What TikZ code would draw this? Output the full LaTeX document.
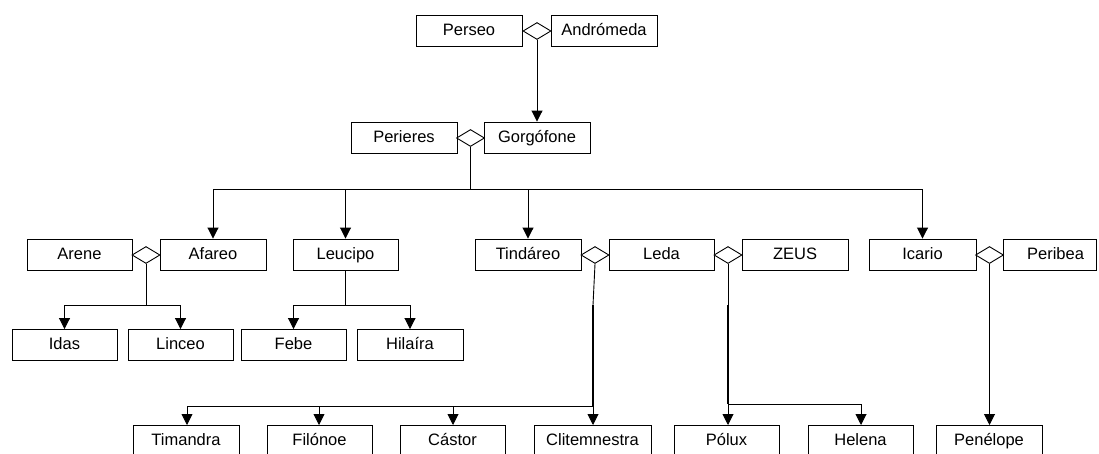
\documentclass[tikz,border=0pt]{standalone}
\usepackage{fontspec}
\setmainfont{Liberation Sans}
\usetikzlibrary{shapes.geometric,arrows.meta}
\tikzset{
  person/.style={draw, line width=0.9pt, minimum width=106pt, minimum height=31pt,
    inner sep=0pt, text height=11.5pt, text depth=2.5pt,
    font=\fontsize{16.5}{19}\selectfont},
  union/.style={draw, fill=white, diamond, line width=0.9pt, inner sep=0pt,
    minimum width=28pt, minimum height=17pt},
  link/.style={line width=0.9pt},
  heavy/.style={line width=1.8pt},
  child/.style={line width=0.9pt, -{Triangle[length=11pt,width=11pt]}}
}
\begin{document}
\begin{tikzpicture}[x=1pt,y=-1pt]
\useasboundingbox (0,0) rectangle (1099,453);
\clip (0,0) rectangle (1099,453);

% generation 0
\node[person] (Perseo) at (469,30.5) {Perseo};
\node[person] (Andromeda) at (604,30.5) {Andrómeda};
\node[union] (u0) at (537,31) {};

% generation 1
\node[person] (Perieres) at (404,137.5) {Perieres};
\node[person] (Gorgofone) at (537,137.5) {Gorgófone};
\node[union] (u1) at (470.5,138) {};

% generation 2
\node[person, minimum width=105pt] (Arene) at (79.5,254.5) {Arene};
\node[person] (Afareo) at (213,254.5) {Afareo};
\node[union] (u2) at (146,255) {};
\node[person, minimum width=105pt] (Leucipo) at (345.5,254.5) {Leucipo};
\node[person] (Tindareo) at (528,254.5) {Tindáreo};
\node[person, minimum width=105pt] (Leda) at (661.5,254.5) {Leda};
\node[union] (u3) at (595,255) {};
\node[person] (Zeus) at (795,254.5) {ZEUS};
\node[union] (u4) at (728,255) {};
\node[person, minimum width=107pt] (Icario) at (922.5,254.5) {Icario};
\node[person, minimum width=93pt] (Peribea) at (1049.5,254.5) {\hspace{12pt}Peribea};
\node[union] (u5) at (989.5,255) {};

% generation 3
\node[person, minimum width=105pt] (Idas) at (64.5,345) {Idas};
\node[person, minimum width=105pt] (Linceo) at (180.5,345) {Linceo};
\node[person, minimum width=105pt] (Febe) at (293.5,345) {Febe};
\node[person] (Hilaira) at (410,345) {Hilaíra};

% generation 4
\node[person] (Timandra) at (186,441) {Timandra};
\node[person, minimum width=105pt] (Filonoe) at (319.5,441) {Filónoe};
\node[person, minimum width=105pt] (Castor) at (452.5,441) {Cástor};
\node[person, minimum width=117pt] (Clitemnestra) at (592.5,441) {Clitemnestra};
\node[person, minimum width=105pt] (Polux) at (726.5,441) {Pólux};
\node[person, minimum width=105pt] (Helena) at (860.5,441) {Helena};
\node[person] (Penelope) at (989,441) {Penélope};

% Perseo + Andrómeda
\draw[child] (u0.south) -- (Gorgofone.north);

% Perieres + Gorgófone
\coordinate (b1) at (470.5,189);
\draw[link] (u1.south) -- (b1);
\draw[link] (Afareo.north |- b1) -- (Icario.north |- b1);
\draw[child] (Afareo.north |- b1) -- (Afareo.north);
\draw[child] (345.5,189) -- (Leucipo.north);
\draw[child] (Tindareo.north |- b1) -- (Tindareo.north);
\draw[child] (Icario.north |- b1) -- (Icario.north);

% Arene + Afareo
\coordinate (b2) at (146,305);
\draw[link] (u2.south) -- (b2);
\draw[link] (64.5,305) -- (180.5,305);
\draw[child] (64.5,305) -- (Idas.north);
\draw[child] (180.5,305) -- (Linceo.north);

% Leucipo
\draw[link] (Leucipo.south) -- (345.5,305);
\draw[link] (Febe.north |- b2) -- (Hilaira.north |- b2);
\draw[child] (Febe.north |- b2) -- (Febe.north);
\draw[child] (Hilaira.north |- b2) -- (Hilaira.north);

% Tindáreo + Leda
\coordinate (t1) at (593,305);
\coordinate (t2) at (593,406);
\draw[link] (u3.south) -- (t1);
\draw[heavy] (t1) -- (t2);
\draw[link] (t2) -- (187,406);
\draw[child] (187,406) -- (187,425);
\draw[child] (319,406) -- (319,425);
\draw[child] (453,406) -- (453,425);
\draw[child] (t2) -- (593,425);

% Leda + ZEUS
\coordinate (z1) at (728,305);
\coordinate (z2) at (728,404);
\draw[link] (u4.south) -- (z1);
\draw[heavy] (z1) -- (z2);
\draw[child] (z2) -- (728,425);
\draw[link] (z2) -- (861,404);
\draw[child] (861,404) -- (861,425);

% Icario + Peribea
\draw[child] (u5.south) -- (989.5,425);
\end{tikzpicture}
\end{document}
